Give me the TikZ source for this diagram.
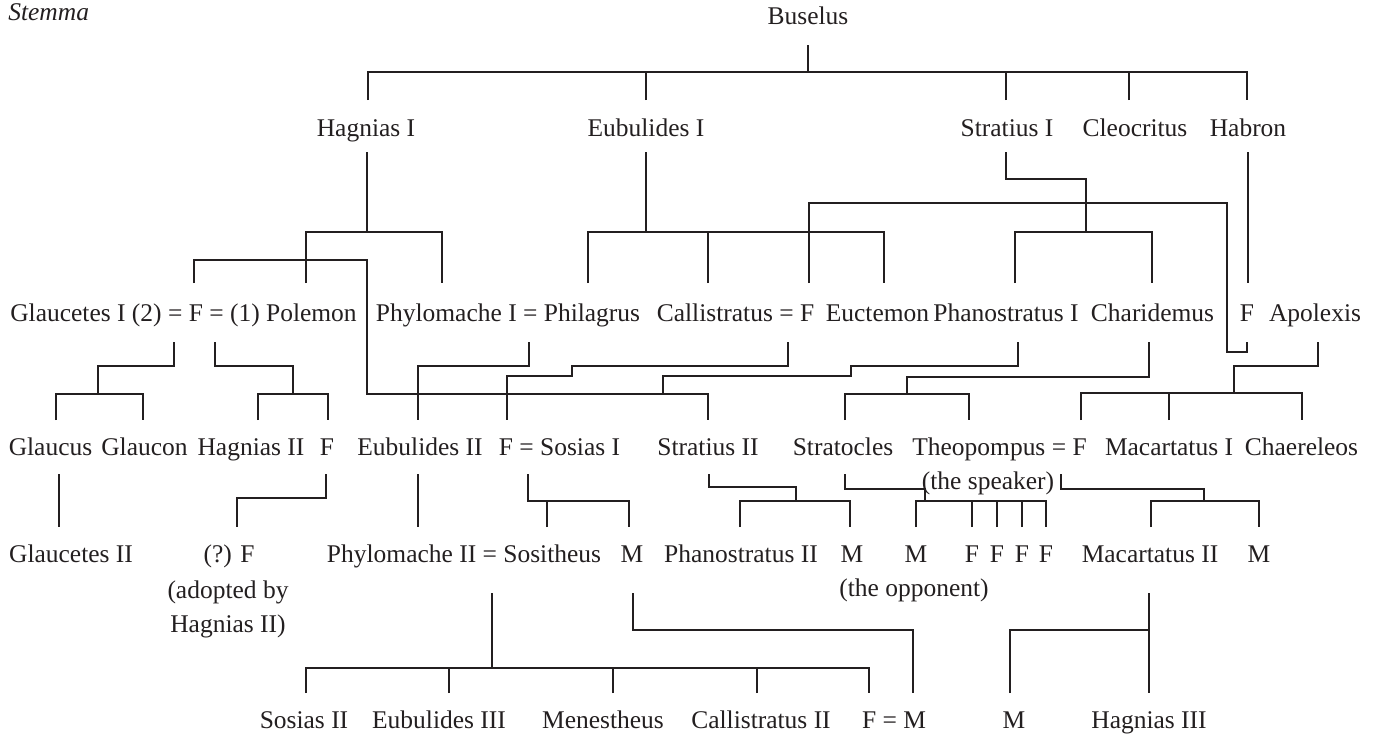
\documentclass[tikz,border=0pt]{standalone}
\usepackage{fontspec}
\setmainfont{Liberation Serif}
\usepackage{tikz}
\definecolor{ink}{HTML}{231F20}
\tikzset{
  person/.style={anchor=base, inner sep=0pt, text=ink, font=\fontsize{14.5}{17}\selectfont},
  kin/.style={draw=ink, line width=0.9pt},
}

\begin{document}
\begin{tikzpicture}[x=0.02cm, y=-0.02cm]
      \useasboundingbox (0,0) rectangle (1375,738);
      % Names, generation by generation
      \node[person, anchor=base west, font=\fontsize{14.5}{17}\selectfont\itshape] (title) at (8,20) {Stemma};
      \node[person] (bus) at (808,24) {Buselus};
      \foreach \n/\x/\t in {hagI/366/Hagnias I, eubI/646/Eubulides I, strI/1007/Stratius I,
        cleo/1135/Cleocritus, habron/1248/Habron}
        \node[person] (\n) at (\x,136) {\t};
      \foreach \n/\x/\t in {glauc/183.5/Glaucetes I (2) = F = (1) Polemon, phyl/508/Phylomache I = Philagrus,
        call/735.5/Callistratus = F, euct/877.5/Euctemon, phanI/1006/Phanostratus I,
        charid/1152.5/Charidemus, habF/1247/F, apol/1315/Apolexis}
        \node[person] (\n) at (\x,321) {\t};
      \foreach \n/\x/\t in {glaucus/50.5/Glaucus, glaucon/144.5/Glaucon, hagII/251/Hagnias II, hagF/327/F,
        eubII/420/Eubulides II, sosI/559.5/F = Sosias I, strII/708/Stratius II, stratocl/843/Stratocles,
        theop/999.5/Theopompus = F, macI/1169/Macartatus I, chaer/1301.5/Chaereleos}
        \node[person] (\n) at (\x,455) {\t};
      \node[person] (speaker) at (988,489) {(the speaker)};
      \foreach \n/\x/\t in {glcII/71/Glaucetes II, adF/229/(?) F, phylII/464/Phylomache II = Sositheus,
        mS/632/M, phanII/741/Phanostratus II, mP/852/M, mOpp/916/M, f1/972/F, f2/997/F, f3/1022/F,
        f4/1046/F, macII/1150/Macartatus II, mMac/1259/M}
        \node[person] (\n) at (\x,562) {\t};
      \node[person] (adopt1) at (228,598) {(adopted by};
      \node[person] (adopt2) at (228,632) {Hagnias II)};
      \node[person] (opp) at (914,596) {(the opponent)};
      \foreach \n/\x/\t in {sosII/304/Sosias II, eubIII/439/Eubulides III, menes/603/Menestheus,
        callII/761/Callistratus II, fm/894/F = M, mH/1014/M, hagIII/1149/Hagnias III}
        \node[person] (\n) at (\x,728) {\t};

      % Line ends above and below the names
      \coordinate (bus-d) at (808,45);
      \foreach \c/\x in {hagI-u/368, eubI-u/646, strI-u/1006, cleo-u/1129, habron-u/1247}
        \coordinate (\c) at (\x,100);
      \foreach \c/\x in {hagI-d/367, eubI-d/646, strI-d/1006, habron-d/1248}
        \coordinate (\c) at (\x,152);
      \foreach \c/\x in {glF-u/194, polemon-u/306, phylI-u/442, philag-u/588, call-u/708, callF-u/809,
        euct-u/884, phanI-u/1015, charid-u/1152, habF-u/1248}
        \coordinate (\c) at (\x,283);
      \foreach \c/\x in {glcI-d/174, glF-d/215, phyl-d/529, call-d/788, phanI-d/1018, charid-d/1149,
        habF-d/1247, apol-d/1318}
        \coordinate (\c) at (\x,342);
      \foreach \c/\x in {glaucus-u/56, glaucon-u/143, hagII-u/258, hagF-u/328, eubII-u/418, sosF-u/507,
        strII-u/708, stratocl-u/845, theop-u/969, macF-u/1081, macI-u/1169, chaer-u/1302}
        \coordinate (\c) at (\x,420);
      \foreach \c/\x in {glaucus-d/59, hagF-d/326, eubII-d/418, sosI-d/528, strII-d/709, stratocl-d/845,
        theop-d/1061}
        \coordinate (\c) at (\x,474);
      \foreach \c/\x in {glcII-u/59, adF-u/237, phylII-u/418, sosith-u/547, mS-u/629, phanII-u/740,
        mP-u/850, mOpp-u/916, f1-u/972, f2-u/997, f3-u/1022, f4-u/1046, macII-u/1151, mMac-u/1259}
        \coordinate (\c) at (\x,527);
      \foreach \c/\x in {phylII-d/492, mS-d/633, macII-d/1149}
        \coordinate (\c) at (\x,593);
      \foreach \c/\x in {sosII-u/306, eubIII-u/449, menes-u/613, callII-u/757, fmF-u/869, fmM-u/913,
        mH-u/1010, hagIII-u/1149}
        \coordinate (\c) at (\x,693);

      % Junctions
      \coordinate (bus-j) at (808,72);
      \coordinate (hagI-j) at (367,232);
      \coordinate (eubI-j) at (646,232);
      \coordinate (strI-j) at (1086,232);
      \coordinate (glcI-j) at (98,394);
      \coordinate (glF-j) at (293,394);
      \coordinate (strII-k) at (663,393);
      \coordinate (charid-j) at (907,394);
      \coordinate (apol-j) at (1234,393);
      \coordinate (sosI-j) at (528,501);
      \coordinate (strII-j) at (796,501);
      \coordinate (stratocl-j) at (925,501);
      \coordinate (theop-j) at (1204,501);
      \coordinate (macII-j) at (1149,630);
      \coordinate (phylII-j) at (492,668);

      % Buselus and his sons
      \draw[kin] (bus-d) -- (bus-j);
      \draw[kin] (hagI-u) |- (bus-j) -| (habron-u);
      \foreach \n in {eubI-u, strI-u, cleo-u}
        \draw[kin] (\n) -- (\n |- bus-j);

      % Second generation
      \draw[kin] (hagI-d) -- (hagI-j);
      \draw[kin] (polemon-u) |- (hagI-j) -| (phylI-u);
      \draw[kin] (eubI-d) -- (eubI-j);
      \draw[kin] (philag-u) |- (eubI-j) -| (euct-u);
      \draw[kin] (call-u) -- (call-u |- eubI-j);
      \draw[kin] (strI-d) |- (1086,179) -- (strI-j);
      \draw[kin] (phanI-u) |- (strI-j) -| (charid-u);
      \draw[kin] (habron-d) -- (habF-u);
      \draw[kin] (callF-u) |- (1227,203) -- (1227,352) -| (habF-d);
      \draw[kin] (glF-u) |- (367,260) -- (367,394) -| (strII-u);

      % Third generation
      \draw[kin] (glcI-d) -- ++(0,24) -| (glcI-j);
      \draw[kin] (glaucus-u) |- (glcI-j) -| (glaucon-u);
      \draw[kin] (glF-d) -- ++(0,24) -| (glF-j);
      \draw[kin] (hagII-u) |- (glF-j) -| (hagF-u);
      \draw[kin] (phyl-d) -- ++(0,24) -| (eubII-u);
      \draw[kin] (call-d) -- ++(0,24) -| (572,376) -| (sosF-u);
      \draw[kin] (phanI-d) -- ++(0,24) -| (851,376) -| (strII-k);
      \draw[kin] (charid-d) -- ++(0,35) -| (charid-j);
      \draw[kin] (stratocl-u) |- (charid-j) -| (theop-u);
      \draw[kin] (apol-d) -- ++(0,24) -| (apol-j);
      \draw[kin] (macF-u) |- (apol-j) -| (chaer-u);
      \draw[kin] (macI-u) -- (macI-u |- apol-j);

      % Fourth generation
      \draw[kin] (glaucus-d) -- (glcII-u);
      \draw[kin] (hagF-d) -- ++(0,24) -| (adF-u);
      \draw[kin] (eubII-d) -- (phylII-u);
      \draw[kin] (sosI-d) -- (sosI-j) -| (mS-u);
      \draw[kin] (sosith-u) -- (sosith-u |- sosI-j);
      \draw[kin] (strII-d) -- ++(0,13) -| (strII-j);
      \draw[kin] (phanII-u) |- (strII-j) -| (mP-u);
      \draw[kin] (stratocl-d) -- ++(0,15) -| (stratocl-j);
      \draw[kin] (mOpp-u) |- (stratocl-j) -| (f4-u);
      \foreach \n in {f1-u, f2-u, f3-u}
        \draw[kin] (\n) -- (\n |- stratocl-j);
      \draw[kin] (theop-d) -- ++(0,15) -| (theop-j);
      \draw[kin] (macII-u) |- (theop-j) -| (mMac-u);

      % Fifth generation
      \draw[kin] (phylII-d) -- (phylII-j);
      \draw[kin] (sosII-u) |- (phylII-j) -| (fmF-u);
      \foreach \n in {eubIII-u, menes-u, callII-u}
        \draw[kin] (\n) -- (\n |- phylII-j);
      \draw[kin] (mS-d) -- ++(0,37) -| (fmM-u);
      \draw[kin] (macII-d) -- (hagIII-u);
      \draw[kin] (mH-u) |- (macII-j);
\end{tikzpicture}
\end{document}
